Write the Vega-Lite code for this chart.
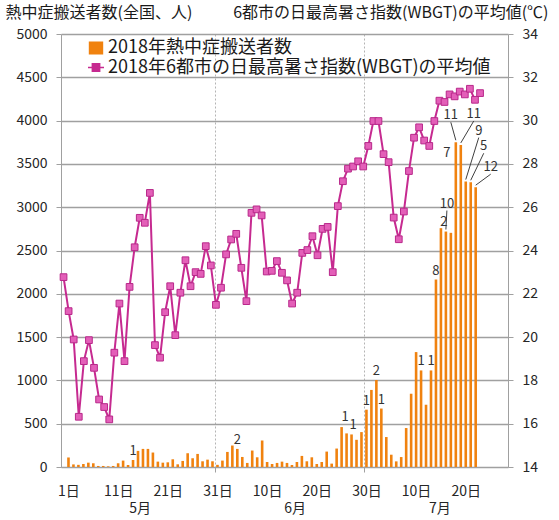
{
  "$schema": "https://vega.github.io/schema/vega-lite/v6.json",
  "width": 447,
  "height": 433,
  "autosize": {"type": "none"},
  "padding": {"left": 61, "top": 34, "right": 51, "bottom": 53},
  "background": "white",
  "config": {
    "font": "Noto Sans CJK JP",
    "view": {"stroke": null},
    "axis": {
      "labelFont": "Noto Sans CJK JP",
      "labelFontSize": 14,
      "labelColor": "#262626",
      "domainColor": "#A0A0A0",
      "tickColor": "#A0A0A0",
      "gridColor": "#A0A0A0",
      "titleFont": "Noto Sans CJK JP",
      "titleFontWeight": "normal",
      "titleColor": "#1a1a1a"
    }
  },
  "data": {
    "values": [
      {"date": "2018/05/01", "count": 110, "wbgt": 22.77},
      {"date": "2018/05/02", "count": 30, "wbgt": 21.2},
      {"date": "2018/05/03", "count": 25, "wbgt": 19.89},
      {"date": "2018/05/04", "count": 35, "wbgt": 16.32},
      {"date": "2018/05/05", "count": 50, "wbgt": 18.89},
      {"date": "2018/05/06", "count": 43, "wbgt": 19.86},
      {"date": "2018/05/07", "count": 12, "wbgt": 18.58},
      {"date": "2018/05/08", "count": 12, "wbgt": 17.12},
      {"date": "2018/05/09", "count": 8, "wbgt": 16.77},
      {"date": "2018/05/10", "count": 12, "wbgt": 16.2},
      {"date": "2018/05/11", "count": 43, "wbgt": 19.28},
      {"date": "2018/05/12", "count": 74, "wbgt": 21.55},
      {"date": "2018/05/13", "count": 23, "wbgt": 18.89},
      {"date": "2018/05/14", "count": 81, "wbgt": 22.32, "deaths": 1},
      {"date": "2018/05/15", "count": 186, "wbgt": 24.15},
      {"date": "2018/05/16", "count": 209, "wbgt": 25.51},
      {"date": "2018/05/17", "count": 209, "wbgt": 25.28},
      {"date": "2018/05/18", "count": 167, "wbgt": 26.66},
      {"date": "2018/05/19", "count": 62, "wbgt": 19.63},
      {"date": "2018/05/20", "count": 50, "wbgt": 19.05},
      {"date": "2018/05/21", "count": 54, "wbgt": 21.15},
      {"date": "2018/05/22", "count": 89, "wbgt": 22.35},
      {"date": "2018/05/23", "count": 31, "wbgt": 20.09},
      {"date": "2018/05/24", "count": 70, "wbgt": 22.05},
      {"date": "2018/05/25", "count": 159, "wbgt": 23.55},
      {"date": "2018/05/26", "count": 101, "wbgt": 22.35},
      {"date": "2018/05/27", "count": 151, "wbgt": 23.0},
      {"date": "2018/05/28", "count": 66, "wbgt": 22.92},
      {"date": "2018/05/29", "count": 85, "wbgt": 24.2},
      {"date": "2018/05/30", "count": 66, "wbgt": 23.31},
      {"date": "2018/05/31", "count": 25, "wbgt": 21.49},
      {"date": "2018/06/01", "count": 74, "wbgt": 22.28},
      {"date": "2018/06/02", "count": 174, "wbgt": 23.82},
      {"date": "2018/06/03", "count": 248, "wbgt": 24.51},
      {"date": "2018/06/04", "count": 209, "wbgt": 24.77, "deaths": 2},
      {"date": "2018/06/05", "count": 116, "wbgt": 23.2},
      {"date": "2018/06/06", "count": 47, "wbgt": 21.66},
      {"date": "2018/06/07", "count": 190, "wbgt": 25.74},
      {"date": "2018/06/08", "count": 112, "wbgt": 25.9},
      {"date": "2018/06/09", "count": 306, "wbgt": 25.62},
      {"date": "2018/06/10", "count": 58, "wbgt": 23.03},
      {"date": "2018/06/11", "count": 35, "wbgt": 23.06},
      {"date": "2018/06/12", "count": 47, "wbgt": 23.51},
      {"date": "2018/06/13", "count": 62, "wbgt": 22.97},
      {"date": "2018/06/14", "count": 47, "wbgt": 22.62},
      {"date": "2018/06/15", "count": 23, "wbgt": 21.55},
      {"date": "2018/06/16", "count": 58, "wbgt": 22.05},
      {"date": "2018/06/17", "count": 128, "wbgt": 23.89},
      {"date": "2018/06/18", "count": 66, "wbgt": 24.02},
      {"date": "2018/06/19", "count": 112, "wbgt": 24.66},
      {"date": "2018/06/20", "count": 35, "wbgt": 23.78},
      {"date": "2018/06/21", "count": 58, "wbgt": 25.0},
      {"date": "2018/06/22", "count": 178, "wbgt": 25.09},
      {"date": "2018/06/23", "count": 39, "wbgt": 23.0},
      {"date": "2018/06/24", "count": 213, "wbgt": 26.05},
      {"date": "2018/06/25", "count": 461, "wbgt": 27.2},
      {"date": "2018/06/26", "count": 388, "wbgt": 27.78, "deaths": 1},
      {"date": "2018/06/27", "count": 376, "wbgt": 27.88, "deaths": 1},
      {"date": "2018/06/28", "count": 314, "wbgt": 28.12},
      {"date": "2018/06/29", "count": 403, "wbgt": 27.88},
      {"date": "2018/06/30", "count": 662, "wbgt": 28.83, "deaths": 1},
      {"date": "2018/07/01", "count": 890, "wbgt": 29.98},
      {"date": "2018/07/02", "count": 1005, "wbgt": 29.98, "deaths": 2},
      {"date": "2018/07/03", "count": 675, "wbgt": 28.45, "deaths": 1},
      {"date": "2018/07/04", "count": 346, "wbgt": 28.08},
      {"date": "2018/07/05", "count": 142, "wbgt": 25.52},
      {"date": "2018/07/06", "count": 65, "wbgt": 24.52},
      {"date": "2018/07/07", "count": 115, "wbgt": 25.8},
      {"date": "2018/07/08", "count": 450, "wbgt": 27.67},
      {"date": "2018/07/09", "count": 846, "wbgt": 29.21},
      {"date": "2018/07/10", "count": 1327, "wbgt": 29.69},
      {"date": "2018/07/11", "count": 1115, "wbgt": 29.08, "deaths": 1},
      {"date": "2018/07/12", "count": 719, "wbgt": 28.83},
      {"date": "2018/07/13", "count": 1115, "wbgt": 29.98, "deaths": 1},
      {"date": "2018/07/14", "count": 2165, "wbgt": 30.92, "deaths": 8},
      {"date": "2018/07/15", "count": 2758, "wbgt": 30.86, "deaths": 2},
      {"date": "2018/07/16", "count": 2719, "wbgt": 31.21, "deaths": 10},
      {"date": "2018/07/17", "count": 2704, "wbgt": 31.12, "deaths": 7},
      {"date": "2018/07/18", "count": 3750, "wbgt": 31.34, "deaths": 11},
      {"date": "2018/07/19", "count": 3719, "wbgt": 31.21, "deaths": 11},
      {"date": "2018/07/20", "count": 3296, "wbgt": 31.47, "deaths": 9},
      {"date": "2018/07/21", "count": 3288, "wbgt": 30.96, "deaths": 5},
      {"date": "2018/07/22", "count": 3231, "wbgt": 31.27, "deaths": 12}
    ]
  },
  "layer": [
    {
      "encoding": {
        "x": {
          "field": "date",
          "type": "temporal",
          "scale": {"domain": [{"year": 2018, "month": 4, "date": 30, "hours": 12}, {"year": 2018, "month": 7, "date": 27, "hours": 12}]},
          "axis": {
            "title": null,
            "values": [
              {"year": 2018, "month": 5, "date": 1},
              {"year": 2018, "month": 5, "date": 11},
              {"year": 2018, "month": 5, "date": 21},
              {"year": 2018, "month": 5, "date": 31},
              {"year": 2018, "month": 6, "date": 10},
              {"year": 2018, "month": 6, "date": 20},
              {"year": 2018, "month": 6, "date": 30},
              {"year": 2018, "month": 7, "date": 10},
              {"year": 2018, "month": 7, "date": 20},
              {"year": 2018, "month": 5, "date": 30, "hours": 12},
              {"year": 2018, "month": 6, "date": 29, "hours": 12}
            ],
            "labelExpr": "hours(datum.value) == 12 ? '' : date(datum.value) + '日'",
            "tickSize": 5,
            "tickOpacity": {"condition": {"test": "hours(datum.value) == 12", "value": 1}, "value": 0},
            "grid": true,
            "gridOpacity": {"condition": {"test": "hours(datum.value) == 12", "value": 1}, "value": 0},
            "gridDash": [2, 2],
            "gridColor": "#B4B4B4",
            "gridWidth": 1,
            "labelPadding": 12,
            "labelFontSize": 14,
            "labelOverlap": false
          }
        },
        "y": {
          "field": "count",
          "type": "quantitative",
          "scale": {"domain": [0, 5000], "nice": false},
          "axis": {
            "values": [0, 500, 1000, 1500, 2000, 2500, 3000, 3500, 4000, 4500, 5000],
            "format": "d",
            "grid": true,
            "gridColor": "#A0A0A0",
            "gridWidth": 1.3,
            "tickSize": 5,
            "labelPadding": 9,
            "title": "熱中症搬送者数(全国、人)",
            "titleAngle": 0,
            "titleAlign": "left",
            "titleBaseline": "middle",
            "titleX": -56,
            "titleY": -21.5,
            "titleFontSize": 16
          }
        }
      },
      "layer": [
        {
          "mark": {"type": "bar", "size": 2.6},
          "encoding": {
            "color": {
              "datum": "2018年熱中症搬送者数",
              "scale": {
                "domain": ["2018年熱中症搬送者数", "2018年6都市の日最高暑さ指数(WBGT)の平均値"],
                "range": ["#F0820F", "#C62A90"]
              },
              "legend": {
                "title": null,
                "orient": "none",
                "legendX": 26,
                "legendY": 5,
                "padding": 0,
                "labelFont": "Noto Sans CJK JP",
                "labelFontSize": 18,
                "labelColor": "#1a1a1a",
                "labelLimit": 600,
                "labelOffset": 3,
                "rowPadding": 1.5,
                "symbolSize": 256,
                "symbolStrokeWidth": 1.5,
                "encode": {
                  "symbols": {
                    "update": {
                      "shape": {"signal": "datum.value == '2018年熱中症搬送者数' ? 'M-0.8,-0.7H0.8V0.7H-0.8Z' : 'M-1,0H1M-0.45,-0.45H0.45V0.45H-0.45Z'"},
                      "fill": {"signal": "datum.value == '2018年熱中症搬送者数' ? '#F0820F' : '#E35FB8'"},
                      "stroke": {"signal": "datum.value == '2018年熱中症搬送者数' ? '#F0820F' : '#C62A90'"},
                      "strokeWidth": {"value": 1.6},
                      "opacity": {"value": 1},
                      "fillOpacity": {"value": 1}
                    }
                  }
                }
              }
            }
          }
        },
        {
          "transform": [{"filter": "isValid(datum.deaths) && month(datum.date) == 6 && (date(datum.date) == 16 || date(datum.date) >= 18)"}],
          "mark": {
            "type": "rule",
            "color": "#404040",
            "strokeWidth": 1,
            "yOffset": -2,
            "x2Offset": {"expr": "[3, 1, -4, -5, 13, 13, 13, 15][date(datum.date) - 15]"},
            "y2Offset": {"expr": "[-6, -28, -80, -27, -31, -51, -36, -20][date(datum.date) - 15] + 7"}
          },
          "encoding": {
            "x2": {"field": "date"},
            "y2": {"field": "count"}
          }
        },
        {
          "transform": [{"filter": "isValid(datum.deaths)"}],
          "mark": {
            "type": "text",
            "baseline": "middle",
            "fontSize": 13,
            "color": "#333333",
            "font": "Noto Sans CJK JP",
            "dx": {"expr": "month(datum.date) == 6 && date(datum.date) >= 15 ? [3, 1, -4, -5, 13, 13, 13, 15][date(datum.date) - 15] : (month(datum.date) == 5 && date(datum.date) == 26 ? -1.5 : (month(datum.date) == 5 && date(datum.date) == 27 ? 1.5 : 0))"},
            "dy": {"expr": "month(datum.date) == 6 && date(datum.date) >= 15 ? [-6, -28, -80, -27, -31, -51, -36, -20][date(datum.date) - 15] : (month(datum.date) == 5 && date(datum.date) == 26 ? -16 : -9)"}
          },
          "encoding": {"text": {"field": "deaths", "type": "quantitative"}}
        }
      ]
    },
    {
      "encoding": {
        "x": {
          "field": "date",
          "type": "temporal",
          "scale": {"domain": [{"year": 2018, "month": 4, "date": 30, "hours": 12}, {"year": 2018, "month": 7, "date": 27, "hours": 12}]},
          "axis": {
            "orient": "bottom",
            "title": null,
            "values": [
              {"year": 2018, "month": 5, "date": 16},
              {"year": 2018, "month": 6, "date": 15, "hours": 12},
              {"year": 2018, "month": 7, "date": 14}
            ],
            "format": "%-m月",
            "ticks": false,
            "domain": false,
            "grid": false,
            "offset": 22,
            "labelPadding": 12,
            "labelFontSize": 14
          }
        },
        "y": {
          "field": "wbgt",
          "type": "quantitative",
          "scale": {"domain": [14, 34], "nice": false},
          "axis": {
            "orient": "right",
            "values": [14, 16, 18, 20, 22, 24, 26, 28, 30, 32, 34],
            "grid": false,
            "tickSize": 5,
            "labelPadding": 9,
            "title": "6都市の日最高暑さ指数(WBGT)の平均値(℃)",
            "titleAngle": 0,
            "titleAlign": "right",
            "titleBaseline": "middle",
            "titleX": 40,
            "titleY": -21.5,
            "titleFontSize": 16
          }
        }
      },
      "layer": [
        {
          "mark": {"type": "line", "strokeWidth": 2},
          "encoding": {"color": {"datum": "2018年6都市の日最高暑さ指数(WBGT)の平均値"}}
        },
        {
          "mark": {"type": "point", "shape": "square", "filled": true, "fill": "#E35FB8", "stroke": "#B8288A", "strokeWidth": 1, "size": 45, "opacity": 1}
        }
      ]
    }
  ],
  "resolve": {"scale": {"x": "independent", "y": "independent"}}
}
